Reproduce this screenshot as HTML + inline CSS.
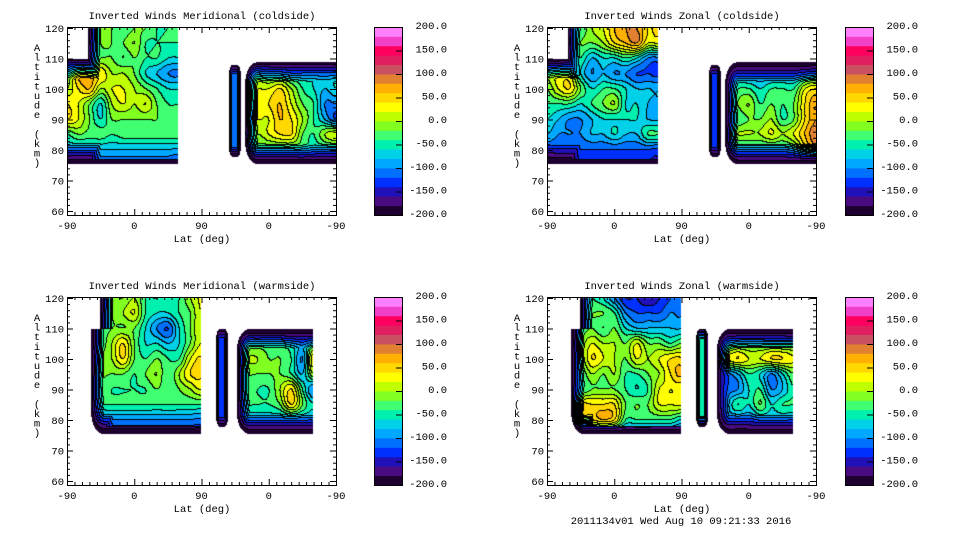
<!DOCTYPE html>
<html><head><meta charset="utf-8">
<style>
body{margin:0;background:#fff;width:960px;height:540px;overflow:hidden;position:relative;font-family:"Liberation Mono",monospace;}
canvas{position:absolute;}
svg{position:absolute;left:0;top:0;}
</style></head>
<body>
<svg id="s" width="960" height="540" font-family="Liberation Mono, monospace" font-size="10.5"></svg>
<script>
// ---- data (values in m/s) rows: altitude 120,115,...,75 ; columns: axis position 0..360 step 15 ----
const altitudes=[120,115,110,105,100,95,90,85,80,75];
const colorLevels=[-200,-180,-160,-140,-120,-100,-80,-60,-40,-20,0,20,40,60,80,100,120,140,160,180];
const colorbarLabels=["200.0","150.0","100.0","50.0","0.0","-50.0","-100.0","-150.0","-200.0"];
const xTickLabels=["-90","0","90","0","-90"];
const yTickLabels=[120,110,100,90,80,70,60];
const F=-40;
const gridMerCold=[
[-60,-60,-80,-20,-20,-40,-20,-20,-40,-40,-40,F,F,F,F,F,-40,-40,-40,-40,-40,-40,-40,-40,-40],
[-40,-40,-60,-20,-20,-20,0,-40,-40,-40,-40,F,F,F,F,F,-40,-40,-40,-40,-40,-40,-40,-40,-40],
[-20,-20,-20,-20,-20,-40,-20,-40,-40,-60,-60,F,F,F,F,F,-60,-60,-60,-60,-60,-60,-60,-60,-60],
[-20,60,60,40,0,0,-20,-60,-80,-100,-100,F,F,F,F,F,0,-20,-40,-40,-60,-60,-60,-60,-60],
[0,40,60,0,20,20,0,-20,-40,-60,-60,F,F,F,F,F,20,20,20,40,0,-40,-60,-80,-60],
[40,20,-20,-60,0,20,0,20,-20,-40,-40,F,F,F,F,F,20,20,40,60,20,-20,-40,-100,-100],
[40,20,-20,-60,-20,-20,-20,-20,-20,-30,-30,F,F,F,F,F,0,20,20,60,40,0,-40,-80,-120],
[-40,-20,-30,-30,-40,-30,-30,-30,-30,-30,-30,F,F,F,F,F,40,0,20,40,40,-20,-40,0,20],
[-80,-80,-80,-80,-80,-80,-80,-80,-80,-80,-80,F,F,F,F,F,-40,-40,-40,-40,-40,-40,-60,-60,-60],
[-120,-120,-120,-120,-120,-120,-120,-120,-120,-120,-120,F,F,F,F,F,-120,-120,-120,-120,-120,-120,-120,-120,-120]];
const gridZonCold=[
[-40,-40,-40,-40,0,20,60,80,80,40,40,F,F,F,F,F,-140,-140,-140,-140,-140,-140,-140,-140,-140],
[-60,-60,-60,-20,-20,0,40,60,80,20,20,F,F,F,F,F,-140,-140,-140,-140,-140,-140,-140,-140,-140],
[-60,-60,-20,-40,-80,-60,-60,-40,-60,-100,-100,F,F,F,F,F,-140,-140,-140,-140,-140,-140,-140,-140,-140],
[0,20,20,-60,-100,-80,-100,-100,-120,-120,-120,F,F,F,F,F,-100,-100,-100,-100,-100,-100,-100,-80,-60],
[-20,20,40,-20,-60,-40,-40,-60,-80,-80,-80,F,F,F,F,F,-60,-40,-40,-60,-40,-40,-40,20,40],
[-40,-40,-40,-60,-40,-20,0,-60,-60,-80,-80,F,F,F,F,F,-40,-20,0,-40,-20,-40,-20,40,80],
[-60,-80,-100,-100,-80,-60,-60,-60,-60,-80,-80,F,F,F,F,F,-60,-40,-20,-20,0,-40,-20,40,80],
[-80,-100,-100,-100,-80,-80,-60,-80,-80,-40,-40,F,F,F,F,F,-20,0,0,0,20,0,20,60,100],
[-120,-120,-120,-120,-120,-120,-120,-120,-120,-120,-120,F,F,F,F,F,-60,-60,-60,-60,-60,-60,-40,20,60],
[-140,-140,-140,-140,-140,-140,-140,-140,-140,-140,-140,F,F,F,F,F,-100,-100,-100,-100,-100,-100,-100,-100,-100]];
const gridMerWarm=[
[F,F,-120,-60,-20,-20,0,-40,-40,-60,-40,0,20,F,F,-140,-140,-140,-140,-140,-140,-140,-140,F,F],
[F,F,-100,-40,-20,0,20,-40,-60,-60,-40,-20,20,F,F,-140,-140,-140,-140,-140,-140,-140,-140,F,F],
[F,F,-120,-40,-20,-20,-20,-60,-100,-120,-60,-20,20,F,F,-140,-140,-140,-140,-140,-140,-140,-140,F,F],
[F,F,-100,-40,0,40,-20,-60,-60,-80,-60,-20,20,F,F,-60,-40,-40,-40,-40,-60,-80,-40,F,F],
[F,F,-60,-20,0,40,-20,-40,-20,-40,-40,20,40,F,F,-40,0,0,-20,-20,-40,-100,40,F,F],
[F,F,-40,-20,-20,-20,-40,-20,0,-40,0,40,40,F,F,-40,-20,-20,-20,-20,-40,-80,0,F,F],
[F,F,-20,-20,-40,-40,-40,-40,-20,-40,-20,0,20,F,F,-40,-20,-40,-40,0,40,-40,-100,F,F],
[F,F,-40,-40,-40,-40,-40,-40,-40,-40,-40,-40,-40,F,F,-60,-40,-40,-40,-20,40,-20,-60,F,F],
[F,F,-100,-100,-100,-100,-100,-100,-100,-100,-100,-100,-100,F,F,-80,-80,-80,-80,-80,-80,-80,-80,F,F],
[F,F,-140,-140,-140,-140,-140,-140,-140,-140,-140,-140,-140,F,F,-120,-120,-120,-120,-120,-120,-120,-120,F,F]];
const gridZonWarm=[
[F,F,-140,-40,-40,-60,-100,-140,-140,-160,-140,-120,-100,F,F,-140,-140,-140,-140,-140,-140,-140,-140,F,F],
[F,F,-140,-20,-20,-20,-40,-100,-120,-120,-120,-100,-100,F,F,-140,-140,-140,-140,-140,-140,-140,-140,F,F],
[F,F,-120,-40,-20,-40,-20,-60,-80,-80,-80,-80,-80,F,F,-140,-140,-140,-140,-140,-140,-140,-140,F,F],
[F,F,-100,-20,20,0,0,-20,20,-20,-20,-40,-20,F,F,-60,-60,-40,-40,-40,-40,-40,-40,F,F],
[F,F,-60,-20,40,20,0,-20,20,0,20,40,40,F,F,-20,20,40,20,20,40,40,20,F,F],
[F,F,-40,-40,0,-20,0,-40,-40,-20,0,40,60,F,F,-40,-100,-80,-40,-60,-100,-60,-20,F,F],
[F,F,-20,-40,-20,-20,-20,-40,-60,-40,20,20,20,F,F,-40,-100,-100,-60,-40,-100,-80,-40,F,F],
[F,F,-20,40,40,40,40,-20,-20,-20,20,20,20,F,F,-60,-80,-40,-60,-20,-60,-40,-40,F,F],
[F,F,-20,40,40,60,40,-40,-40,-40,-40,-40,-60,F,F,-100,-100,-100,-100,-80,-80,-80,-80,F,F],
[F,F,-120,-120,-120,-120,-120,-120,-120,-120,-120,-120,-120,F,F,-120,-120,-120,-120,-120,-120,-120,-120,F,F]];
const capsuleValues=[-110,-130,-130,-60];
// ---- layout ----
const bandColors=["#1e0030","#4a0a80","#2010b8","#0030ff","#0070ff","#00a8ff","#00d0e8","#00f0b0","#40ff70","#80ff20","#c0ff00","#ffff00","#ffd800","#ffb000","#e08030","#c85060","#e02060","#ff0060","#f040c8","#ff80ff"];
const PW=269,PH=188;
const panels=[
 {name:"meridional-coldside",title:"Inverted Winds Meridional (coldside)",ox:67,oy:27,cb:374,grid:gridMerCold,cap:0,
  regions:[[0,148,75.5,110,"bt"],[27,148,77,120,"l"],[216,232,78,108,"lrbt","c"],[238,360,75.5,109,"lbt"]]},
 {name:"zonal-coldside",title:"Inverted Winds Zonal (coldside)",ox:547,oy:27,cb:845,grid:gridZonCold,cap:1,
  regions:[[0,148,75.5,110,"bt"],[27,148,77,120,"l"],[216,232,78,108,"lrbt","c"],[238,360,75.5,109,"lbt"]]},
 {name:"meridional-warmside",title:"Inverted Winds Meridional (warmside)",ox:67,oy:297,cb:374,grid:gridMerWarm,cap:2,
  regions:[[32,178,75.5,110,"lb"],[44,178,78,120,"l"],[199,215,78,110,"lrbt","c"],[227,328,75.5,110,"lbt"]]},
 {name:"zonal-warmside",title:"Inverted Winds Zonal (warmside)",ox:547,oy:297,cb:845,grid:gridZonWarm,cap:3,
  regions:[[32,178,75.5,110,"lb"],[44,178,78,120,"l"],[199,215,78,110,"lrbt","c"],[227,328,75.5,110,"lbt"]]}
];
const ux=u=>u*PW/360;            // axis position -> px
const zy=z=>1+(120-z)*3.05;      // altitude -> px
const yzInv=y=>120-(y-1)/3.05;
function cr(p0,p1,p2,p3,t){return 0.5*((2*p1)+(-p0+p2)*t+(2*p0-5*p1+4*p2-p3)*t*t+(-p0+3*p1-3*p2+p3)*t*t*t);}
function at(g,r,c){r=Math.max(0,Math.min(9,r));c=Math.max(0,Math.min(24,c));return g[r][c];}
function interp(g,u,z){
 let c=Math.max(0,Math.min(24,u/15)), r=Math.max(0,Math.min(9,(120-z)/5));
 let c0=Math.min(23,Math.floor(c)), r0=Math.min(8,Math.floor(r)); let fc=c-c0, fr=r-r0;
 const rows=[];
 for(let k=-1;k<=2;k++){rows.push(cr(at(g,r0+k,c0-1),at(g,r0+k,c0),at(g,r0+k,c0+1),at(g,r0+k,c0+2),fc));}
 return cr(rows[0],rows[1],rows[2],rows[3],fr);
}
const svg=document.getElementById('s');
const NS="http://www.w3.org/2000/svg";
function el(tag,attrs,txt){const e=document.createElementNS(NS,tag);for(const k in attrs)e.setAttribute(k,attrs[k]);if(txt!==undefined)e.textContent=txt;svg.appendChild(e);return e;}
panels.forEach((p,pi)=>{
 const cv=document.createElement('canvas');cv.width=PW;cv.height=PH;
 cv.style.left=p.ox+'px';cv.style.top=p.oy+'px';
 
 
 document.body.insertBefore(cv,svg);
 const ctx=cv.getContext('2d');const img=ctx.createImageData(PW,PH);
 const band=new Int16Array(PW*PH).fill(-1);
 for(let y=0;y<PH;y++)for(let x=0;x<PW;x++){
  const u=x*360/PW, z=yzInv(y+0.5); let best=null;
  for(const R of p.regions){
   const x0=ux(R[0]),x1=ux(R[1]),y0=zy(R[3]),y1=zy(R[2]);
   if(x<x0||x>x1||y<y0||y>y1)continue;
   let f=1;const fd=R[4];const cap=!!R[5];
   const WH=cap?3.5:13, WV=cap?10:20;
   let fx=1,fy=1;
   if(fd.includes('l'))fx=Math.min(fx,(x-x0)/WH);
   if(fd.includes('r'))fx=Math.min(fx,(x1-x)/WH);
   if(fd.includes('t'))fy=Math.min(fy,(y-y0)/WV);
   if(fd.includes('b'))fy=Math.min(fy,(y1-y)/WV);
   fx=Math.max(0,fx);fy=Math.max(0,fy);
   if(fx<1&&fy<1){const a=1-fx,b=1-fy;f=Math.max(0,1-Math.sqrt(a*a+b*b));}else f=Math.min(fx,fy);
   if(f<=0)continue;
   const base=cap?capsuleValues[p.cap]:interp(p.grid,u,z);
   const v=-200+(base+200)*Math.min(1,f);
   if(best===null||v>best)best=v;
  }
  if(best!==null){let b=0;for(let i=0;i<colorLevels.length;i++)if(best>=colorLevels[i])b=i;band[y*PW+x]=b;}
 }
 for(let y=0;y<PH;y++)for(let x=0;x<PW;x++){
  const i=y*PW+x,b=band[i];let col=[255,255,255];
  if(b>=0){
   const h=bandColors[b];col=[parseInt(h.substr(1,2),16),parseInt(h.substr(3,2),16),parseInt(h.substr(5,2),16)];
   const r=x<PW-1?band[i+1]:-1, d=y<PH-1?band[i+PW]:-1;
   if((r>=0&&r!==b)||(d>=0&&d!==b))col=[0,0,0];
  }
  img.data[i*4]=col[0];img.data[i*4+1]=col[1];img.data[i*4+2]=col[2];img.data[i*4+3]=255;
 }
 ctx.putImageData(img,0,0);
 const fr=el('rect',{x:p.ox+.5,y:p.oy+.5,width:PW,height:PH,fill:'none',stroke:'#000'});
 
 
 const t=el('text',{x:p.ox+135,y:p.oy-8,'text-anchor':'middle'},p.title);
 
 
 for(let u=0;u<=360;u+=10){
  const X=p.ox+ux(u)+.5, L=(u%90===0)?6:3;
  el('line',{x1:X,x2:X,y1:p.oy+PH,y2:p.oy+PH-L,stroke:'#000'});
  el('line',{x1:X,x2:X,y1:p.oy,y2:p.oy+L,stroke:'#000'});
 }
 xTickLabels.forEach((s,i)=>{const e=el('text',{x:p.ox+ux(i*90),y:p.oy+PH+14,'text-anchor':'middle'},s);
  
  });
 const xl=el('text',{x:p.ox+135,y:p.oy+PH+27,'text-anchor':'middle'},'Lat (deg)');
 
 
 for(let z=60;z<=120;z+=2){
  const Y=p.oy+zy(z)+.5, L=(z%10===0)?6:3;
  el('line',{x1:p.ox,x2:p.ox+L,y1:Y,y2:Y,stroke:'#000'});
  el('line',{x1:p.ox+PW,x2:p.ox+PW-L,y1:Y,y2:Y,stroke:'#000'});
 }
 yTickLabels.forEach(z=>{const e=el('text',{x:p.ox-3,y:p.oy+zy(z)+4,'text-anchor':'end'},String(z));
  
  });
 const ylab="Altitude (km)";
 for(let i=0;i<ylab.length;i++){const e=el('text',{x:p.ox-30,y:p.oy+24+i*9.6,'text-anchor':'middle'},ylab[i]);
  
  }
 const bh=PH/colorLevels.length;
 colorLevels.forEach((lv,i)=>{const r=el('rect',{x:p.cb,y:p.oy+PH-(i+1)*bh,width:28,height:bh+.4,fill:bandColors[i]});
  
  });
 const cbf=el('rect',{x:p.cb+.5,y:p.oy+.5,width:28,height:PH,fill:'none',stroke:'#000'});
 
 
 colorbarLabels.forEach((s,i)=>{const Y=p.oy+i*PH/8;
  el('line',{x1:p.cb+22,x2:p.cb+28,y1:Y+.5,y2:Y+.5,stroke:'#000'});
  const e=el('text',{x:p.cb+73,y:Y+2,'text-anchor':'end'},s);
  
  });
});
const ts=el('text',{x:681,y:524,'text-anchor':'middle'},'2011134v01 Wed Aug 10 09:21:33 2016');


</script>
</body></html>
